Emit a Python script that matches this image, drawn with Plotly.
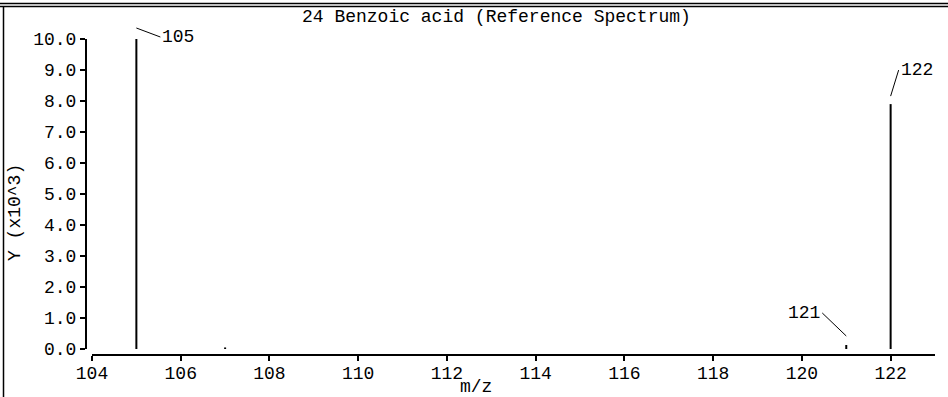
import plotly.graph_objects as go

# ---- data ----
mz = [105, 107, 121, 122]
intensity_k = [10.0, 0.05, 0.13, 7.9]          # Y (x10^3)
label_mz = [105, 121, 122]
label_text = ["105", "121", "122"]
x_ticks = [104, 106, 108, 110, 112, 114, 116, 118, 120, 122]
y_ticks = [0, 1, 2, 3, 4, 5, 6, 7, 8, 9, 10]
title_text = "24 Benzoic acid (Reference Spectrum)"

FONT = dict(family="Liberation Mono, DejaVu Sans Mono, monospace", size=18, color="black")

# stick spectrum
xs, ys = [], []
for m, v in zip(mz, intensity_k):
    xs += [m, m, None]
    ys += [0, v, None]

fig = go.Figure()
fig.add_trace(go.Scatter(x=xs, y=ys, mode="lines",
                         line=dict(color="black", width=2),
                         hoverinfo="skip", showlegend=False, cliponaxis=False))

W, H = 948, 397
L, R, T, B = 86, 13, 39, 42
pw, ph = W - L - R, H - T - B

def px(xp):
    return (xp - L) / pw

def py(yp):
    return (H - B - yp) / ph

# label leader settings (pixel offsets)
lab_cfg = {
    105: dict(yshift=11, ax=24, ay=9, xanchor="left"),
    121: dict(yshift=9, ax=-24, ay=-23, xanchor="right"),
    122: dict(yshift=8, ax=8, ay=-26, xanchor="left"),
}
annotations = []
for m, t in zip(label_mz, label_text):
    v = intensity_k[mz.index(m)]
    c = lab_cfg[m]
    annotations.append(dict(
        x=m, y=v, xref="x", yref="y", text=t, showarrow=True,
        arrowhead=0, arrowwidth=1, arrowcolor="black",
        ax=c["ax"], ay=c["ay"], yshift=c["yshift"],
        xanchor=c["xanchor"], yanchor="middle", font=FONT,
    ))

annotations += [
    dict(x=px(496), y=py(17), xref="paper", yref="paper", text=title_text,
         showarrow=False, font=FONT, xanchor="center", yanchor="middle"),
    dict(x=px(15), y=py(213), xref="paper", yref="paper", text="Y (x10^3)",
         textangle=-90, showarrow=False, font=FONT, xanchor="center", yanchor="middle"),
    dict(x=px(476), y=py(386.5), xref="paper", yref="paper", text="m/z",
         showarrow=False, font=FONT, xanchor="center", yanchor="middle"),
]

shapes = [
    dict(type="line", xref="paper", yref="paper", x0=px(0), x1=px(W), y0=py(3.5), y1=py(3.5),
         line=dict(color="black", width=1.5)),
    dict(type="line", xref="paper", yref="paper", x0=px(0), x1=px(W), y0=py(6.5), y1=py(6.5),
         line=dict(color="black", width=1.5)),
    dict(type="line", xref="paper", yref="paper", x0=px(3.5), x1=px(3.5), y0=py(6.5), y1=py(H + 5),
         line=dict(color="black", width=1.5)),
]

fig.update_layout(
    width=W, height=H,
    margin=dict(l=L, r=R, t=T, b=B, pad=0, autoexpand=False),
    paper_bgcolor="white", plot_bgcolor="white",
    font=FONT,
    showlegend=False,
    xaxis=dict(
        range=[104, 123], domain=[6 / pw, 1], anchor="free", position=0,
        tickvals=x_ticks, ticktext=[str(t) for t in x_ticks],
        ticks="outside", ticklen=5, tickwidth=1.5, tickcolor="black",
        ticklabelstandoff=-4,
        showline=True, linecolor="black", linewidth=2, automargin=False,
        showgrid=False, zeroline=False, tickfont=FONT,
    ),
    yaxis=dict(
        range=[0, 10], domain=[6 / ph, 1], anchor="free", position=0,
        tickvals=y_ticks, ticktext=[f"{t:.1f}" for t in y_ticks],
        ticks="outside", ticklen=5, tickwidth=1.5, tickcolor="black",
        showline=True, linecolor="black", linewidth=2, automargin=False,
        showgrid=False, zeroline=False, tickfont=FONT,
    ),
    annotations=annotations,
    shapes=shapes,
)

fig.write_html(
    "out.html",
    config={"displayModeBar": False},
    post_script="document.body.style.margin='0';document.body.style.overflow='hidden';",
)
